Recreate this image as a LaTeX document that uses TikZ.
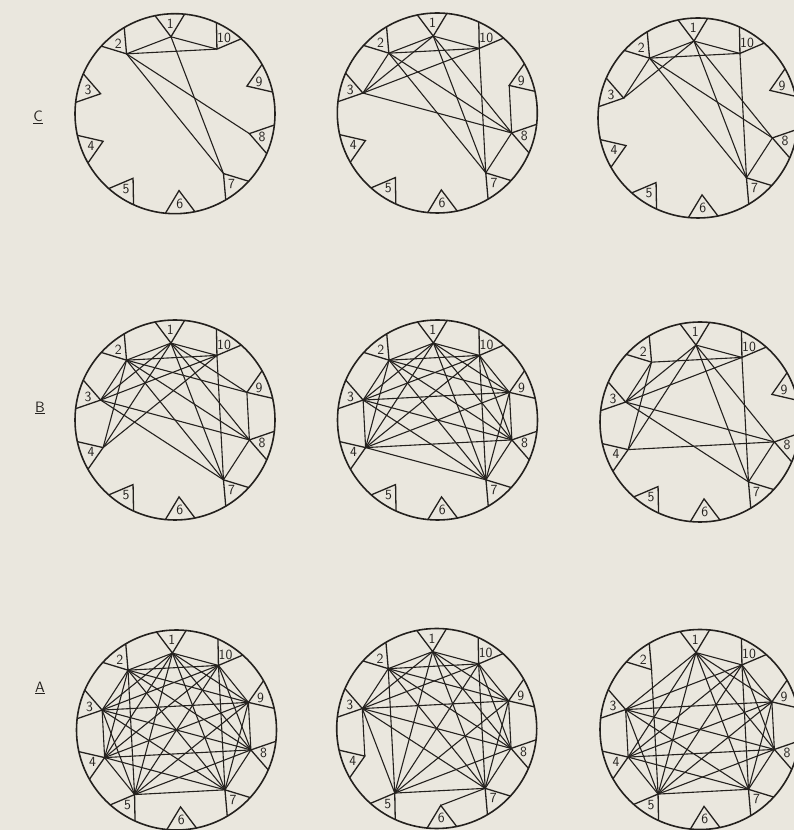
\documentclass[tikz,border=0pt]{standalone}
\usetikzlibrary{calc}
\definecolor{paper}{RGB}{234,231,222}
\definecolor{ink}{RGB}{36,33,30}
\tikzset{
  rim/.style={draw=ink,line width=1.6pt},
  notch/.style={draw=ink,line width=1.3pt,line join=miter},
  link/.style={draw=ink,line width=1.1pt},
  num/.style={font=\sffamily\fontsize{14}{14}\selectfont,text=ink,inner sep=0pt},
  rowlab/.style={font=\sffamily\fontsize{15}{15}\selectfont,text=ink,inner sep=0pt}
}
\newcommand{\disc}[3]{%
  \coordinate (#1) at (#2,#3);
  \draw[rim] (#1) circle (100pt);
  \foreach \k in {1,...,10}{%
    \pgfmathsetmacro{\ang}{93+36*(\k-1)}%
    \coordinate (#1-\k) at ($(#1)+(\ang:77pt)$);
    \draw[notch] ($(#1)+(\ang-8.5:100pt)$) -- (#1-\k) -- ($(#1)+(\ang+8.5:100pt)$);
    \node[num] (#1-n\k) at ($(#1)+(\ang:90pt)$) {\k};
  }%
}
\newcommand{\links}[2]{%
  \foreach \p/\q in {#2}{\draw[link] (#1-\p) -- (#1-\q);}%
}
\newcommand{\fullset}[2]{%
  \foreach \p [count=\i] in {#2}{%
    \foreach \q [count=\j] in {#2}{%
      \ifnum\i<\j \draw[link] (#1-\p) -- (#1-\q);\fi
    }%
  }%
}
\begin{document}
\begin{tikzpicture}[x=1pt,y=1pt]
\fill[paper] (0,0) rectangle (794,830);
\useasboundingbox (0,0) rectangle (794,830);

% row labels
\node[rowlab] (labC) at (38,713) {\underline{C}};
\node[rowlab] (labB) at (40,422) {\underline{B}};
\node[rowlab] (labA) at (40,142) {\underline{A}};

% row C
\disc{cl}{175}{716.3}
\links{cl}{1/2,1/10,2/10,2/8,2/7,1/7}
\disc{cm}{437.3}{717}
\links{cm}{1/2,1/10,2/10,1/3,2/3,3/10,3/8,1/8,2/8,1/7,2/7,7/10,7/8,8/9}
\disc{cr}{698}{712}
\links{cr}{1/2,1/10,2/10,1/3,2/3,2/7,2/8,1/7,1/8,7/10,7/8}

% row B
\disc{bl}{175}{410}
\links{bl}{1/2,1/10,2/10,1/3,2/3,3/10,1/4,2/4,4/10,1/9,2/9,1/8,2/8,3/8,1/7,2/7,3/7,7/10,7/8,8/9}
\disc{bm}{437.5}{410}
\fullset{bm}{1,2,3,4,7,8,9,10}
\disc{br}{700}{408}
\links{br}{1/10,2/10,1/3,2/3,1/4,2/4,3/10,3/8,3/7,4/8,1/7,1/8,7/10,7/8}

% row A
\disc{al}{176.5}{100}
\fullset{al}{1,2,3,4,5,7,8,9,10}
\disc{am}{436.7}{101.5}
\fullset{am}{1,2,3,5,7,8,9,10}
\links{am}{3/4,6/7}
\disc{ar}{700}{100.5}
\fullset{ar}{1,3,4,5,7,8,9,10}
\links{ar}{2/5}
\end{tikzpicture}
\end{document}
